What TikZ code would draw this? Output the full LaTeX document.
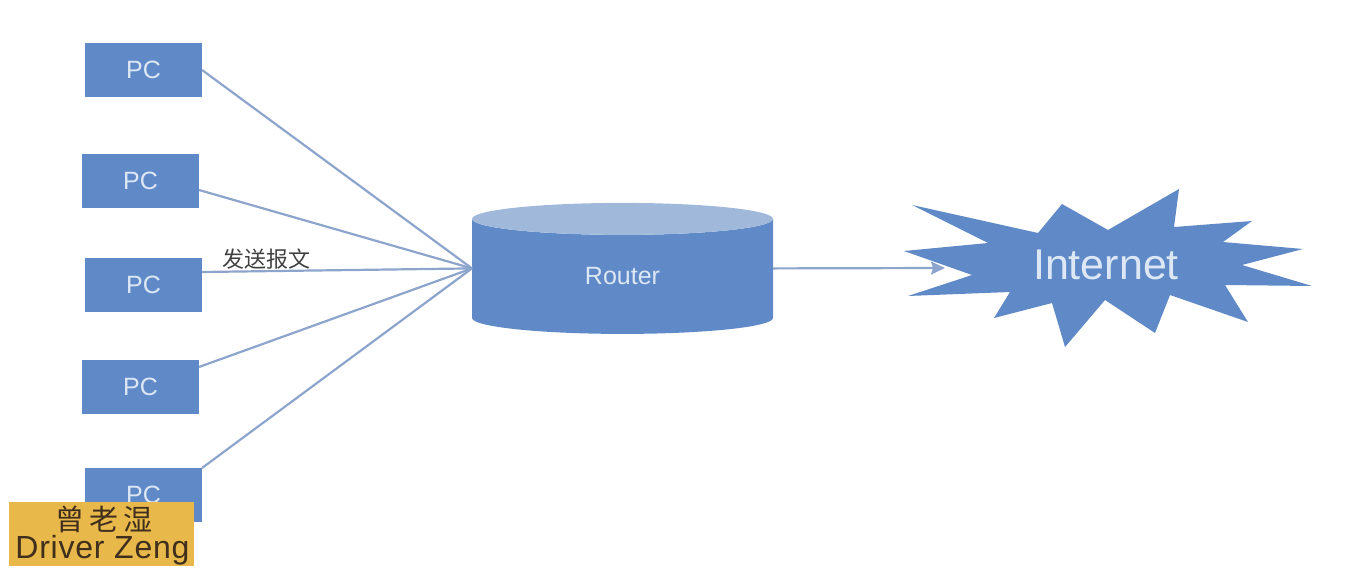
\documentclass[tikz,border=0pt]{standalone}
\usepackage{fontspec}
\setmainfont{Liberation Sans}
\newfontfamily\cjkfont{Noto Sans CJK SC}
\usetikzlibrary{arrows.meta,positioning,shapes.geometric}
\definecolor{boxblue}{HTML}{5F8AC7}
\definecolor{toplight}{HTML}{A0B8DA}
\definecolor{wireblue}{HTML}{8DA4CC}
\definecolor{boxtext}{HTML}{DDE7F5}
\definecolor{signgold}{HTML}{E8B84A}
\definecolor{signtext}{HTML}{3F2F1C}
\tikzset{
  pcbox/.style={fill=boxblue,text=boxtext,minimum width=117pt,minimum height=54pt,inner sep=0pt,outer sep=0pt,font=\fontsize{25}{30}\selectfont},
  wire/.style={draw=wireblue,line width=2.2pt}
}
\begin{document}
\begin{tikzpicture}[x=1pt,y=-1pt,>={Stealth[length=14pt,width=13pt,inset=2pt]}]

    \useasboundingbox (0,0) rectangle (1367,569);

    \node[pcbox] (pc1) at (143.5,70) {PC};
    \node[pcbox] (pc2) [below=57pt of pc1,xshift=-3pt] {PC};
    \node[pcbox] (pc3) [below=50pt of pc2,xshift=3pt] {PC};
    \node[pcbox] (pc4) [below=48pt of pc3,xshift=-3pt] {PC};
    \node[pcbox] (pc5) [below=54pt of pc4,xshift=3pt] {PC};

    \node[cylinder,shape border rotate=90,aspect=0.426,cylinder uses custom fill,
          cylinder body fill=boxblue,cylinder end fill=toplight,
          minimum width=301pt,minimum height=131pt,inner sep=0pt,outer sep=0pt,text=boxtext,
          font=\fontsize{25}{30}\selectfont] (router) at (622.5,276.5) {Router};
    \coordinate (routerin) at (router.shape center -| router.west);
    \coordinate (routerout) at (router.shape center -| router.east);

    % star outline is drawn directly
    \fill[boxblue] (912,205) -- (1038,233) -- (1062,204) -- (1108,230) -- (1179,189)
        -- (1174,227) -- (1252,221) -- (1223,242) -- (1303,249) -- (1242,265)
        -- (1312,286) -- (1225,285) -- (1248,322) -- (1170,295) -- (1155,333)
        -- (1105,300) -- (1065,347) -- (1052,303) -- (994,318) -- (1010,292)
        -- (908,296) -- (972,275) -- (904,251) -- (988,243) -- cycle;
    \coordinate (netin) at (945,268);
    \node[text=boxtext,font=\fontsize{43}{50}\selectfont] (internet) at (1106,265) {Internet};

    \path[wire] (pc1.east) -- (routerin);
    \path[wire] ([yshift=-9pt]pc2.east) -- (routerin);
    \path[wire] ([yshift=13pt]pc3.east) -- (routerin);
    \path[wire] ([yshift=20pt]pc4.east) -- (routerin);
    \path[wire] (pc5.north east) -- (routerin);
    \path[wire,->] (routerout) -- (netin);

    \node[font=\cjkfont\fontsize{22}{26}\selectfont,text=black!75,inner sep=0pt] (sendlabel) [right=20pt of pc3.north east,yshift=-1pt] {发送报文};

    \node[fill=signgold,minimum width=185pt,minimum height=64pt,inner sep=0pt] (sign) at (101.5,534) {};
    \node[text=signtext,inner sep=0pt,font=\cjkfont\fontsize{29}{30}\selectfont] (signcn) at (104,519) {曾\,老\,湿};
    \node[text=signtext,inner sep=0pt,anchor=base,font=\fontsize{32}{32}\addfontfeatures{LetterSpace=2.4}\selectfont] (signen) at (102.5,558) {Driver Zeng};

\end{tikzpicture}
\end{document}
